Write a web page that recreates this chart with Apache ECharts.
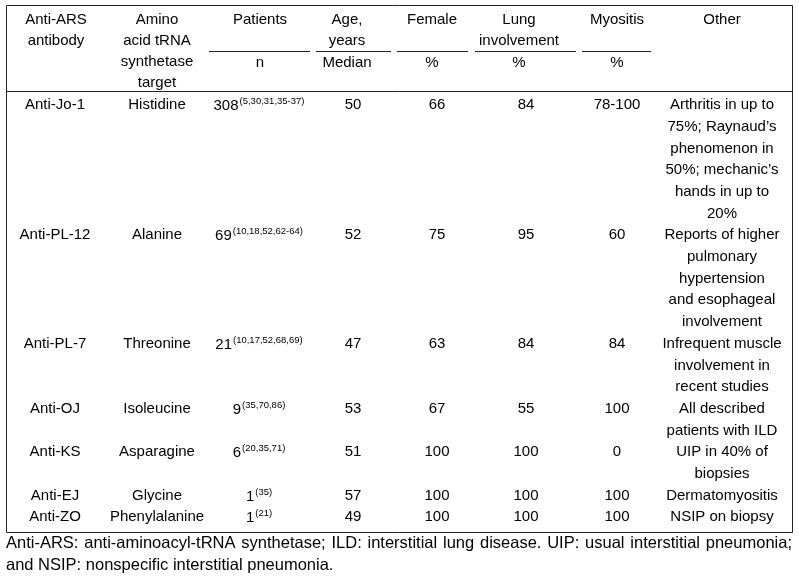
<!DOCTYPE html>
<html>
<head>
<meta charset="utf-8">
<script src="https://cdn.jsdelivr.net/npm/echarts@6/dist/echarts.min.js"></script>
<style>
html, body { margin: 0; padding: 0; background: #fff; }
#table { width: 799px; height: 580px; }
</style>
</head>
<body>
<div id="table"></div>
<script>
// table data
const antibodies = ['Anti-Jo-1', 'Anti-PL-12', 'Anti-PL-7', 'Anti-OJ', 'Anti-KS', 'Anti-EJ', 'Anti-ZO']
const targets = ['Histidine', 'Alanine', 'Threonine', 'Isoleucine', 'Asparagine', 'Glycine', 'Phenylalanine']
const patients = [308, 69, 21, 9, 6, 1, 1]
const patientRefs = ['5,30,31,35-37', '10,18,52,62-64', '10,17,52,68,69', '35,70,86', '20,35,71', '35', '21']
const ageMedian = [50, 52, 47, 53, 51, 57, 49]
const female = [66, 75, 63, 67, 100, 100, 100]
const lung = [84, 95, 84, 55, 100, 100, 100]
const myositis = ['78-100', '60', '84', '100', '0', '100', '100']
const other = [
  ['Arthritis in up to', '75%; Raynaud\u2019s', 'phenomenon in', '50%; mechanic\u2019s', 'hands in up to', '20%'],
  ['Reports of higher', 'pulmonary', 'hypertension', 'and esophageal', 'involvement'],
  ['Infrequent muscle', 'involvement in', 'recent studies'],
  ['All described', 'patients with ILD'],
  ['UIP in 40% of', 'biopsies'],
  ['Dermatomyositis'],
  ['NSIP on biopsy']
]
const headers = [
  ['Anti-ARS', 'antibody'],
  ['Amino', 'acid tRNA', 'synthetase', 'target'],
  ['Patients'],
  ['Age,', 'years'],
  ['Female'],
  ['Lung', 'involvement'],
  ['Myositis'],
  ['Other']
]
const subHeaders = ['', '', 'n', 'Median', '%', '%', '%', '']
const footnote = [
  'Anti-ARS: anti-aminoacyl-tRNA synthetase; ILD: interstitial lung disease. UIP: usual interstitial pneumonia;',
  'and NSIP: nonspecific interstitial pneumonia.'
]

// layout (page pixels, mapped through the hidden axes)
const FONT = '"Liberation Sans", Arial, sans-serif'
const SIZE = 15
const FOOT_SIZE = 16.5
const bodyX = [55, 157, 259, 353, 437, 526, 617, 722]
const headX = [56, 157, 260, 347, 432, 519, 617, 722]
const headTop = 20, headStep = 20.8
const bodyTop = 105, bodyStep = 21.7
const box = { x1: 6.5, y1: 5.5, x2: 792.5, y2: 532.5 }
const headSep = 91.5
const subLineY = 51.5
const subLines = [[209, 310], [316, 391], [397, 468], [475, 576], [582, 651]]

// cells: [x, y, label]
const cells = []
headers.forEach((lines, c) => {
  lines.forEach((t, k) => cells.push([headX[c], headTop + k * headStep, t]))
})
subHeaders.forEach((t, c) => { if (t) cells.push([headX[c], headTop + 2 * headStep + 1, t]) })

let line = 0
antibodies.forEach((ab, r) => {
  const y = bodyTop + line * bodyStep
  cells.push([bodyX[0], y, ab])
  cells.push([bodyX[1], y, targets[r]])
  cells.push([bodyX[2], y, '{n|' + patients[r] + '}{s|(' + patientRefs[r] + ')}'])
  cells.push([bodyX[3], y, String(ageMedian[r])])
  cells.push([bodyX[4], y, String(female[r])])
  cells.push([bodyX[5], y, String(lung[r])])
  cells.push([bodyX[6], y, myositis[r]])
  other[r].forEach((t, k) => cells.push([bodyX[7], y + k * bodyStep, t]))
  line += other[r].length
})

const rules = [
  [box.x1, box.y1, box.x2, box.y1],
  [box.x1, box.y2, box.x2, box.y2],
  [box.x1, box.y1, box.x1, box.y2],
  [box.x2, box.y1, box.x2, box.y2],
  [box.x1, headSep, box.x2, headSep]
]
subLines.forEach(s => rules.push([s[0], subLineY, s[1], subLineY]))

// footnote, justified first line
const ctx = document.createElement('canvas').getContext('2d')
ctx.font = FOOT_SIZE + 'px ' + FONT
const footWords = []
footnote.forEach((txt, i) => {
  const words = txt.split(' ')
  const y = 543 + i * 22
  if (i === 0) {
    const widths = words.map(w => ctx.measureText(w).width)
    const total = widths.reduce((a, b) => a + b, 0)
    const gap = (792 - 6 - total) / (words.length - 1)
    let x = 6
    words.forEach((w, j) => { footWords.push([x, y, w]); x += widths[j] + gap })
  } else {
    footWords.push([6, y, txt])
  }
})

const chart = echarts.init(document.getElementById('table'))
const option = {
  animation: false,
  grid: { left: 0, right: 0, top: 0, bottom: 0 },
  xAxis: { type: 'value', min: 0, max: 799, show: false },
  yAxis: { type: 'value', min: 0, max: 580, inverse: true, show: false },
  series: [
    {
      type: 'custom',
      data: rules,
      renderItem: function (params, api) {
        const a = api.coord([api.value(0), api.value(1)])
        const b = api.coord([api.value(2), api.value(3)])
        return {
          type: 'line',
          shape: { x1: a[0], y1: a[1], x2: b[0], y2: b[1] },
          style: { stroke: '#222', lineWidth: 1 }
        }
      }
    },
    {
      type: 'custom',
      data: cells,
      renderItem: function (params, api) {
        const p = api.coord([api.value(0), api.value(1)])
        return {
          type: 'text',
          x: p[0],
          y: p[1],
          style: {
            text: cells[params.dataIndex][2],
            align: 'center',
            verticalAlign: 'middle',
            fill: '#000',
            font: SIZE + 'px ' + FONT,
            rich: {
              n: { fontSize: SIZE, fontFamily: FONT, lineHeight: 17, verticalAlign: 'bottom' },
              s: { fontSize: 9.5, fontFamily: FONT, lineHeight: 17, verticalAlign: 'top', padding: [0, 0, 0, 1] }
            }
          }
        }
      }
    },
    {
      type: 'custom',
      data: footWords,
      renderItem: function (params, api) {
        const p = api.coord([api.value(0), api.value(1)])
        return {
          type: 'text',
          x: p[0],
          y: p[1],
          style: {
            text: footWords[params.dataIndex][2],
            align: 'left',
            verticalAlign: 'middle',
            fill: '#000',
            font: FOOT_SIZE + 'px ' + FONT
          }
        }
      }
    }
  ]
}
chart.setOption(option)
window.addEventListener('resize', () => {
  chart.resize()
})
</script>
</body>
</html>
